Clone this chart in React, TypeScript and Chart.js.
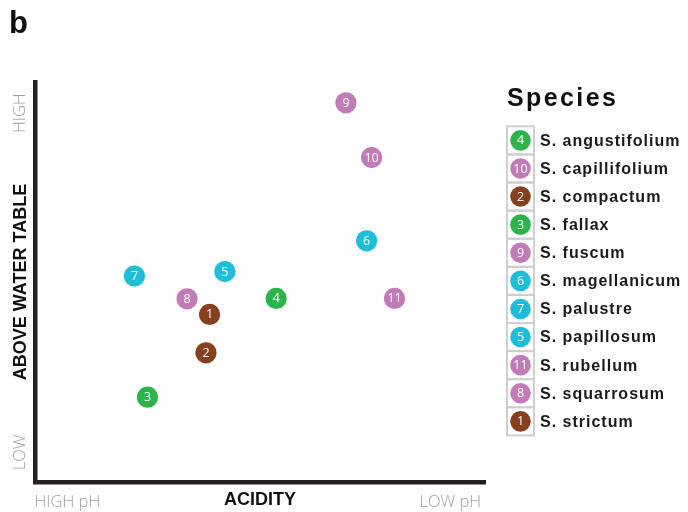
import React, { useEffect, useRef } from 'react';
import { Chart, registerables } from 'chart.js';

Chart.register(...registerables);

// ---- data ----
const speciesNames = [
  'S. strictum',
  'S. compactum',
  'S. fallax',
  'S. angustifolium',
  'S. papillosum',
  'S. magellanicum',
  'S. palustre',
  'S. squarrosum',
  'S. fuscum',
  'S. capillifolium',
  'S. rubellum',
];
const speciesNumbers = [1, 2, 3, 4, 5, 6, 7, 8, 9, 10, 11];
const acidityValues = [38.8, 38.0, 25.0, 53.6, 42.2, 73.7, 22.1, 33.8, 69.1, 74.8, 79.9];
const heightValues = [41.9, 32.3, 21.2, 45.9, 52.6, 60.3, 51.5, 45.8, 94.8, 81.1, 45.9];
const speciesGroups = ['brown', 'brown', 'green', 'green', 'cyan', 'cyan', 'cyan', 'pink', 'pink', 'pink', 'pink'];
const groupColors: Record<string, string> = {
  green: '#2cb34a',
  pink: '#c17bb6',
  brown: '#86401d',
  cyan: '#1fbdd9',
};
const xTickValues = [7.2, 92.3];
const xTickLabels = ['HIGH pH', 'LOW pH'];
const yTickValues = [7.4, 92.2];
const yTickLabels = ['LOW', 'HIGH'];
const xAxisTitle = 'ACIDITY';
const yAxisTitle = 'ABOVE WATER TABLE';
const legendTitle = 'Species';
const panelLabel = 'b';

const annotatePlugin = {
  id: 'annotate',
  afterDatasetsDraw(chart: any) {
    const ctx = chart.ctx;
    ctx.save();
    ctx.fillStyle = '#ffffff';
    ctx.font = '12.5px "Open Sans"';
    ctx.textAlign = 'center';
    ctx.textBaseline = 'middle';
    chart.data.datasets.forEach((ds: any, i: number) => {
      const meta = chart.getDatasetMeta(i);
      meta.data.forEach((el: any) => {
        ctx.fillText(String(ds.number), el.x, el.y + 0.5);
      });
    });
    ctx.restore();
  },
  afterDraw(chart: any) {
    const ctx = chart.ctx;
    const xs = chart.scales.x;
    const ys = chart.scales.y;
    const area = chart.chartArea;
    ctx.save();

    // axis end labels
    ctx.fillStyle = '#a0a0a0';
    ctx.font = '300 16.5px "Open Sans"';
    ctx.textAlign = 'center';
    ctx.textBaseline = 'alphabetic';
    xTickValues.forEach((v, i) => {
      ctx.fillText(xTickLabels[i], xs.getPixelForValue(v), area.bottom + 25.3);
    });
    yTickValues.forEach((v, i) => {
      ctx.save();
      ctx.translate(ys.left + 20.3, ys.getPixelForValue(v));
      ctx.rotate(-Math.PI / 2);
      ctx.textBaseline = 'middle';
      ctx.fillText(yTickLabels[i], 0, 0);
      ctx.restore();
    });

    // panel label
    ctx.fillStyle = '#111111';
    ctx.font = 'bold 31px "Liberation Sans"';
    ctx.textAlign = 'left';
    ctx.textBaseline = 'alphabetic';
    ctx.fillText(panelLabel, 9, 33);

    // legend
    const lx = area.right + 22;
    ctx.font = 'bold 25px "Liberation Sans"';
    (ctx as any).letterSpacing = '2.4px';
    ctx.fillText(legendTitle, lx, 105.5);
    (ctx as any).letterSpacing = '0px';

    const order = speciesNames
      .map((n, i) => i)
      .sort((a, b) => speciesNames[a].localeCompare(speciesNames[b]));
    const top = 126.3;
    const pitch = 28.1;
    const cellW = 27;
    order.forEach((idx, row) => {
      const y0 = top + row * pitch;
      const cy = y0 + pitch / 2;
      const cx = lx + cellW / 2;
      ctx.strokeStyle = '#cfcfcf';
      ctx.lineWidth = 2;
      ctx.strokeRect(lx, y0, cellW, pitch);
      ctx.beginPath();
      ctx.arc(cx, cy, 10.3, 0, Math.PI * 2);
      ctx.fillStyle = groupColors[speciesGroups[idx]];
      ctx.fill();
      ctx.fillStyle = '#ffffff';
      ctx.font = '12.5px "Open Sans"';
      ctx.textAlign = 'center';
      ctx.textBaseline = 'middle';
      ctx.fillText(String(speciesNumbers[idx]), cx, cy + 0.5);
      ctx.fillStyle = '#1a1a1a';
      ctx.font = 'bold 16px "Liberation Sans"';
      (ctx as any).letterSpacing = '1px';
      ctx.textAlign = 'left';
      ctx.fillText(speciesNames[idx], lx + 33, cy + 1);
      (ctx as any).letterSpacing = '0px';
    });
    ctx.restore();
  },
};

export default function App() {
  const canvasRef = useRef<HTMLCanvasElement | null>(null);

  useEffect(() => {
    if (!canvasRef.current) return;
    const datasets = speciesNames.map((name, i) => ({
      label: name,
      number: speciesNumbers[i],
      data: [{ x: acidityValues[i], y: heightValues[i] }],
      backgroundColor: groupColors[speciesGroups[i]],
      pointRadius: 10.6,
      pointHoverRadius: 10.6,
      borderWidth: 0,
    }));
    const chart = new Chart(canvasRef.current, {
      type: 'scatter',
      data: { datasets } as any,
      options: {
        animation: false,
        responsive: true,
        maintainAspectRatio: false,
        events: [],
        layout: { padding: { left: 0, right: 203, top: 82, bottom: 0 } },
        plugins: { legend: { display: false }, tooltip: { enabled: false } },
        scales: {
          x: {
            type: 'linear',
            min: 0,
            max: 100,
            grid: { display: false, drawTicks: false },
            ticks: { display: false },
            border: { display: true, color: '#231f20', width: 4.5 },
            title: {
              display: true,
              text: xAxisTitle,
              color: '#111111',
              font: { family: '"Liberation Sans"', size: 18, weight: 'bold' },
              padding: { top: 7.7, bottom: 0.7 },
            },
          },
          y: {
            type: 'linear',
            min: 0,
            max: 100,
            grid: { display: false, drawTicks: false },
            ticks: { display: false },
            border: { display: true, color: '#231f20', width: 4.5 },
            title: {
              display: true,
              text: yAxisTitle,
              color: '#111111',
              font: { family: '"Liberation Sans"', size: 18, weight: 'bold' },
              padding: { top: 10, bottom: 3.4 },
            },
          },
        },
      } as any,
      plugins: [annotatePlugin],
    });
    return () => chart.destroy();
  }, []);

  return (
    <div style={{ position: 'absolute', left: 0, top: 0, width: 688, height: 512, background: '#ffffff' }}>
      <canvas ref={canvasRef} />
    </div>
  );
}
